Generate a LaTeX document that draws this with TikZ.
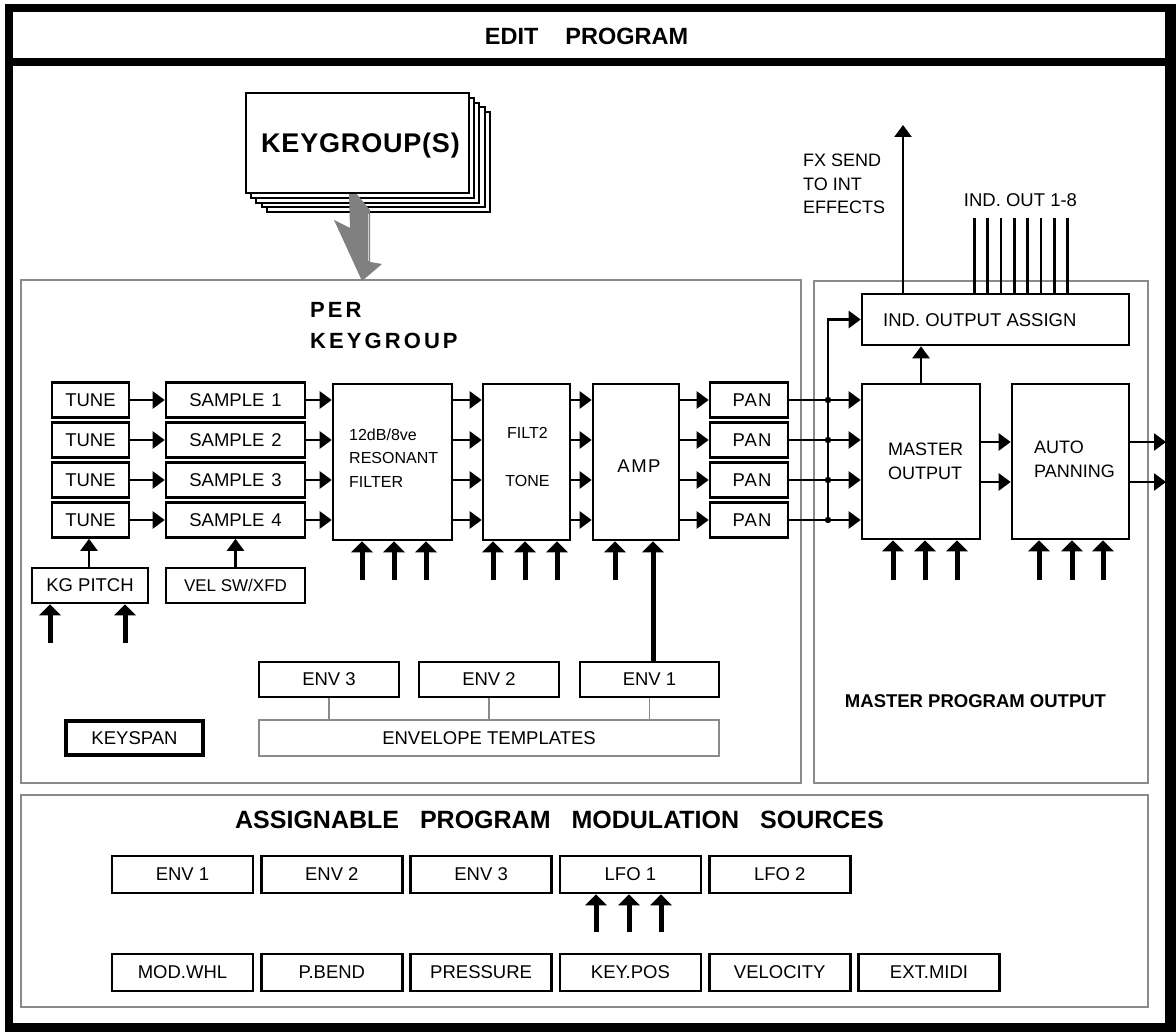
\documentclass[tikz,border=0pt]{standalone}
\usepackage{fontspec}
\setmainfont{Liberation Sans}
\usetikzlibrary{arrows.meta}
\definecolor{frameg}{HTML}{8A8A8A}
\definecolor{arrg}{HTML}{808080}
\newcommand\fsLab{\fontsize{18.5}{21}\selectfont}
\newcommand\fsFil{\fontsize{16}{23.5}\selectfont}
\begin{document}
\begin{tikzpicture}[x=1pt,y=-1pt,
  box/.style={draw, line width=2.6pt, fill=white, inner sep=0pt, minimum height=35pt, font=\fsLab},
  gbox/.style={draw=frameg, line width=2pt},
  sig/.style={line width=2.5pt, -{Triangle[length=12pt,width=17pt]}},
  modarr/.style={line width=5pt, -{Triangle[length=11pt,width=21pt]}},
  plainln/.style={line width=2.5pt},
  lbl/.style={inner sep=0pt, font=\fsLab},
  fil/.style={inner sep=0pt, font=\fsFil, align=left},
  card/.style={draw, line width=2pt, fill=white}]
\useasboundingbox (0,0) rectangle (1176,1032);
% outer frame
\fill[black] (5,4) rectangle (1176,1032);
\fill[white] (13,12) rectangle (1165,1023);
\fill[black] (13,58) rectangle (1165,66);
\node[inner sep=0pt, anchor=base, font=\fontsize{23.5}{28}\selectfont\bfseries] (title) at (586.5,45) {EDIT\hspace{27pt}PROGRAM};

% group frames
\draw[gbox] (21,280) rectangle (801,783);
\draw[gbox] (814,281) rectangle (1148,783);
\draw[gbox] (21,795) rectangle (1148,1007);

% keygroup card stack
\foreach \k in {4,3,2,1}{
  \draw[card] (246+5.2*\k, 93+4.8*\k) rectangle (469+5.2*\k, 193+4.8*\k);
}
\fill[arrg] (349,192) -- (355,192) -- (370,210) -- (370,262) -- (382,264) -- (362,281) -- (334,220) -- (350,228) -- cycle;
\draw[gray!35, line width=0.8pt] (368,214) -- (368,261);
\node[card, minimum width=223pt, minimum height=100pt, inner sep=0pt] (kg) at (357.5,143) {};
\node[inner sep=0pt, anchor=base, font=\fontsize{27}{32}\selectfont\bfseries\addfontfeature{LetterSpace=3}] (kgt) at (360.5,153) {KEYGROUP(S)};

% PER KEYGROUP label
\node[inner sep=0pt, anchor=base west, font=\fontsize{22}{31}\selectfont\bfseries\addfontfeature{LetterSpace=14}] (perk1) at (310,318) {PER};
\node[inner sep=0pt, anchor=base west, font=\fontsize{22}{31}\selectfont\bfseries\addfontfeature{LetterSpace=14}] (perk2) at (310,349) {KEYGROUP};

% tune / sample
\foreach \i in {1,2,3,4}{
  \node[box, minimum width=77pt] (tune\i) at (90.5,360+40*\i) {TUNE};
  \node[box, minimum width=139pt] (smp\i) at (235.5,360+40*\i) {SAMPLE\hspace{7pt}\i};
}
\node[box, minimum width=116pt] (kgp) at (90,585.5) {KG PITCH};
\node[box, minimum width=139pt] (vel) at (235.5,585.5) {\fontsize{17}{20}\selectfont VEL SW/XFD};

% main blocks
\node[box, minimum width=119pt, minimum height=156pt] (filt) at (392.5,462) {};
\node[box, minimum width=87pt, minimum height=156pt] (filt2) at (526.5,462) {};
\node[box, minimum width=86pt, minimum height=156pt] (amp) at (636,462) {};
\node[fil, anchor=base west] (filtt) at (349,487) {12dB/8ve\\RESONANT\\FILTER};
\node[inner sep=0pt, font=\fsFil, anchor=base] (f2a) at (527.5,438) {FILT2};
\node[inner sep=0pt, font=\fsFil, anchor=base] (f2b) at (527.5,486) {TONE};
\node[inner sep=0pt, anchor=base, font=\fsLab\addfontfeature{LetterSpace=8}] (ampt) at (639,472) {AMP};

\foreach \i in {1,2,3,4}{
  \node[box, minimum width=78pt] (pan\i) at (749,360+40*\i) {\hspace{6pt}\addfontfeature{LetterSpace=6}PAN};
}

% master section
\node[box, minimum width=118pt, minimum height=155pt] (mast) at (921,461.5) {};
\node[box, minimum width=117pt, minimum height=155pt] (auto) at (1070.5,461.5) {};
\node[box, minimum width=267pt, minimum height=51pt] (ind) at (995.5,319.5) {};
\node[lbl, anchor=base west] (indt) at (883,327) {IND. OUTPUT ASSIGN};
\node[lbl, anchor=base west, align=left, font=\fontsize{18}{24}\selectfont] (mastt) at (888,479) {MASTER\\OUTPUT};
\node[lbl, anchor=base west, align=left, font=\fontsize{18}{24}\selectfont] (autot) at (1034,477) {AUTO\\PANNING};
\node[lbl, anchor=base west, align=left, font=\fontsize{18}{23.5}\selectfont] (fxt) at (803,214) {FX SEND\\TO INT\\EFFECTS};
\node[lbl, anchor=base] (indo) at (1020.5,207) {IND. OUT 1-8};
\node[inner sep=0pt, anchor=base, font=\fontsize{18.5}{22}\selectfont\bfseries] (mpo) at (975.5,707) {MASTER PROGRAM OUTPUT};

% envelopes
\node[box, minimum width=140pt] (e3) at (329,679.5) {ENV 3};
\node[box, minimum width=140pt] (e2) at (489,679.5) {ENV 2};
\node[box, minimum width=139pt] (e1) at (649.5,679.5) {ENV 1};
\node[draw=frameg, line width=2.5pt, fill=white, inner sep=0pt, minimum width=460pt, minimum height=36pt, font=\fsLab] (tmpl) at (489,738) {ENVELOPE TEMPLATES};
\node[draw, line width=4.5pt, fill=white, inner sep=0pt, minimum width=137pt, minimum height=34pt, font=\fsLab] (ksp) at (134.5,738) {KEYSPAN};
\foreach \e in {e1,e2,e3}{
  \draw[frameg, line width=1.6pt] (\e.south) -- (\e.south |- tmpl.north);
}

% signal arrows
\foreach \i in {1,2,3,4}{
  \draw[sig] (tune\i.east) -- (smp\i.west);
  \draw[sig] (smp\i.east) -- (filt.west |- smp\i);
  \draw[sig] (filt.east |- smp\i) -- (filt2.west |- smp\i);
  \draw[sig] (filt2.east |- smp\i) -- (amp.west |- smp\i);
  \draw[sig] (amp.east |- smp\i) -- (pan\i.west);
  \draw[sig] (pan\i.east) -- (mast.west |- pan\i);
}
\coordinate (bus) at (828,0);
\draw[sig] (bus |- pan4) -- (bus |- ind.west) -- (ind.west);
\foreach \i in {1,2,3,4}{ \fill (bus |- pan\i) circle (3.2pt); }
\draw[sig] (mast.north) -- (mast.north |- ind.south);
\coordinate (fx) at (903,125);
\draw[sig] (fx |- ind.north) -- (fx);
\foreach \k in {0,...,7}{
  \coordinate (io\k) at (974.3+13.34*\k,218);
  \draw[plainln] (io\k) -- (io\k |- ind.north);
}
\coordinate (ma) at (0,442);
\coordinate (mb) at (0,482);
\draw[sig] (mast.east |- ma) -- (auto.west |- ma);
\draw[sig] (mast.east |- mb) -- (auto.west |- mb);
\coordinate (oa) at (1166,442);
\coordinate (ob) at (1166,482);
\draw[sig] (auto.east |- oa) -- (oa);
\draw[sig] (auto.east |- ob) -- (ob);

\coordinate (kgx) at (89,0);
\draw[sig, line width=2.2pt] (kgp.north -| kgx) -- (tune4.south -| kgx);
\draw[sig, line width=2.2pt] (vel.north) -- (smp4.south);

% modulation arrows
\foreach \x/\b in {362/filt,394/filt,426/filt,493/filt2,525/filt2,557/filt2,615/amp,893/mast,925/mast,957/mast,1039/auto,1072/auto,1103/auto}{
  \coordinate (m\x) at (\x,580);
  \draw[modarr] (m\x) -- (m\x |- \b.south);
}
\coordinate (ka) at (50,643);
\coordinate (kb) at (125,643);
\draw[modarr] (ka) -- (ka |- kgp.south);
\draw[modarr] (kb) -- (kb |- kgp.south);
\coordinate (ae) at (653,0);
\draw[modarr] (e1.north -| ae) -- (amp.south -| ae);

% modulation sources
\node[inner sep=0pt, anchor=base, font=\fontsize{25}{30}\selectfont\bfseries] (amst) at (559.5,828) {ASSIGNABLE\hspace{21pt}PROGRAM\hspace{21pt}MODULATION\hspace{21pt}SOURCES};
\node[box, minimum width=141pt, minimum height=37pt] (s1) at (182.5,874.5) {ENV 1};
\node[box, minimum width=141pt, minimum height=37pt] (s2) at (331.8,874.5) {ENV 2};
\node[box, minimum width=141pt, minimum height=37pt] (s3) at (481.1,874.5) {ENV 3};
\node[box, minimum width=141pt, minimum height=37pt] (s4) at (630.4,874.5) {LFO 1};
\node[box, minimum width=141pt, minimum height=37pt] (s5) at (779.7,874.5) {LFO 2};
\node[box, minimum width=141pt, minimum height=37pt] (t1) at (182.5,972.5) {MOD.WHL};
\node[box, minimum width=141pt, minimum height=37pt] (t2) at (331.8,972.5) {P.BEND};
\node[box, minimum width=141pt, minimum height=37pt] (t3) at (481.1,972.5) {PRESSURE};
\node[box, minimum width=141pt, minimum height=37pt] (t4) at (630.4,972.5) {KEY.POS};
\node[box, minimum width=141pt, minimum height=37pt] (t5) at (779.7,972.5) {VELOCITY};
\node[box, minimum width=141pt, minimum height=37pt] (t6) at (929,972.5) {EXT.MIDI};
\foreach \x in {596,629,661}{
  \coordinate (l\x) at (\x,932);
  \draw[modarr] (l\x) -- (l\x |- s4.south);
}
\end{tikzpicture}
\end{document}
